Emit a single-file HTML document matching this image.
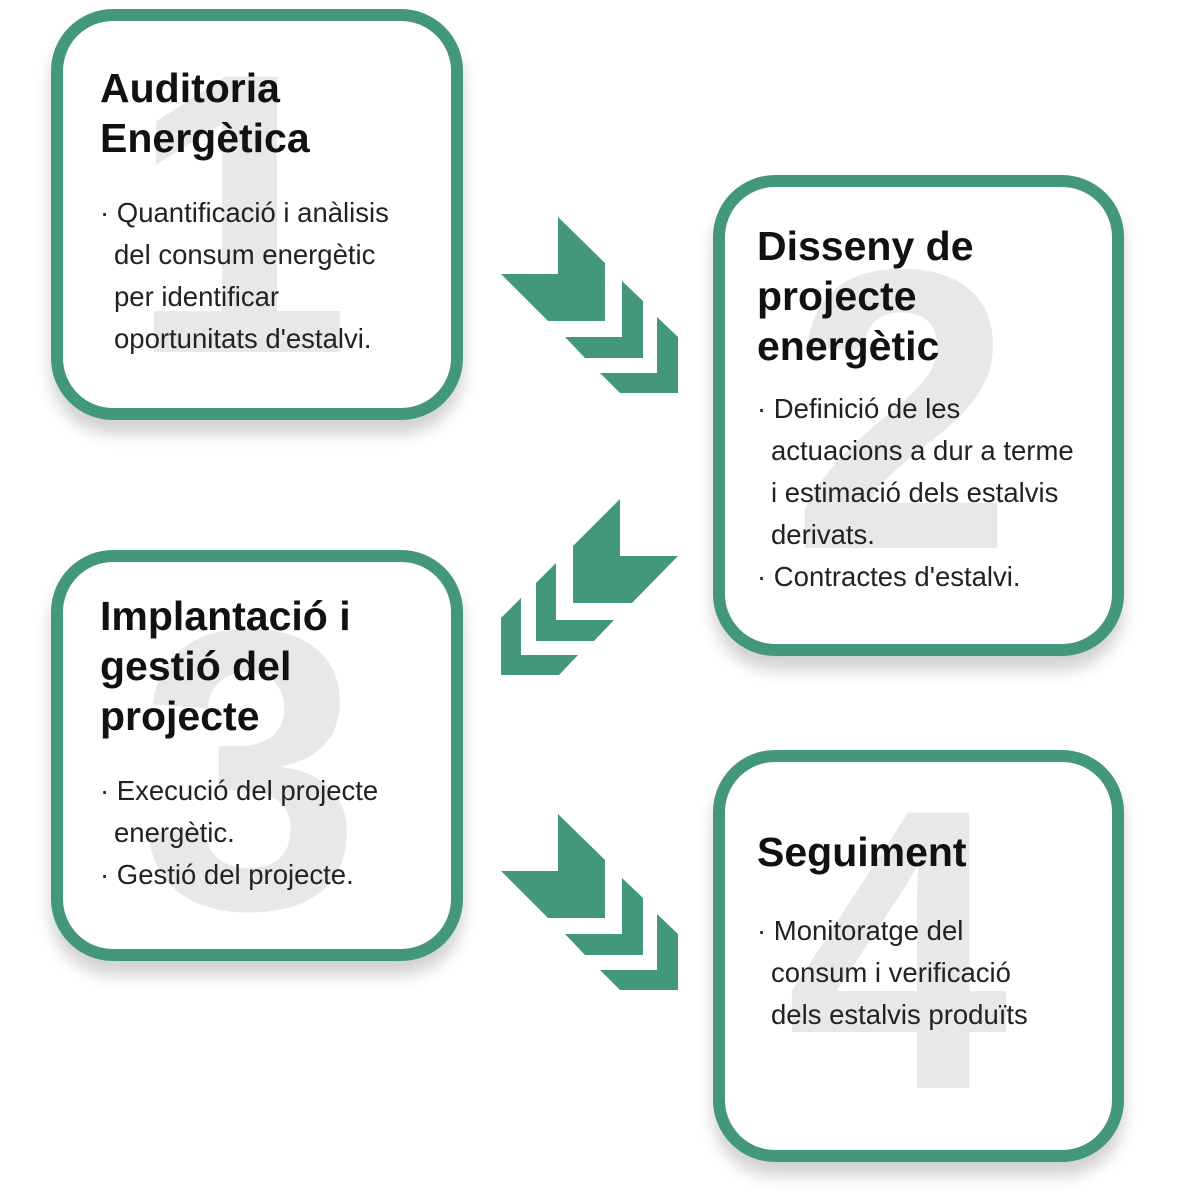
<!DOCTYPE html>
<html><head><meta charset="utf-8"><style>
body{margin:0;width:1200px;height:1200px;background:#fff;position:relative;overflow:hidden;font-family:"Liberation Sans",sans-serif;}
.box{position:absolute;box-sizing:border-box;border:12px solid #43977c;border-radius:62px;background:#fff;box-shadow:0 14px 16px rgba(0,0,0,0.18);}
.num{position:absolute;width:240px;text-align:center;font-size:400px;line-height:400px;font-weight:bold;color:#e8e8e8;}
.t{position:absolute;font-weight:bold;font-size:41px;line-height:50px;color:#111;white-space:nowrap;}
.b{position:absolute;font-size:27.5px;line-height:42px;color:#222;white-space:nowrap;}
.b div{padding-left:14px;}
.b div.f{padding-left:0;}
svg{position:absolute;left:0;top:0;}
</style></head><body>
<div class="box" style="left:51px;top:9px;width:412px;height:411px"></div>
<div class="box" style="left:713px;top:175px;width:411px;height:481px"></div>
<div class="box" style="left:51px;top:550px;width:412px;height:411px"></div>
<div class="box" style="left:713px;top:750px;width:411px;height:412px"></div>

<div class="num" style="left:120px;top:14px">1</div>
<div class="num" style="left:782px;top:210px">2</div>
<div class="num" style="left:130px;top:570px">3</div>
<div class="num" style="left:777px;top:750px">4</div>

<div class="t" style="left:100px;top:63px">Auditoria<br>Energètica</div>
<div class="b" style="left:100px;top:192px"><div class="f">· Quantificació i anàlisis</div><div>del consum energètic</div><div>per identificar</div><div>oportunitats d'estalvi.</div></div>

<div class="t" style="left:757px;top:221px">Disseny de<br>projecte<br>energètic</div>
<div class="b" style="left:757px;top:388px"><div class="f">· Definició de les</div><div>actuacions a dur a terme</div><div>i estimació dels estalvis</div><div>derivats.</div><div class="f">· Contractes d'estalvi.</div></div>

<div class="t" style="left:100px;top:591px">Implantació i<br>gestió del<br>projecte</div>
<div class="b" style="left:100px;top:770px"><div class="f">· Execució del projecte</div><div>energètic.</div><div class="f">· Gestió del projecte.</div></div>

<div class="t" style="left:757px;top:827px">Seguiment</div>
<div class="b" style="left:757px;top:910px"><div class="f">· Monitoratge del</div><div>consum i verificació</div><div>dels estalvis produïts</div></div>

<svg width="1200" height="1200" fill="#43977c">
<polygon points="501,274 558,274 558,217 605,263 605,321 548,321"/>
<polygon points="565,337 622,337 622,281 643,301 643,358 585,358"/>
<polygon points="600,373 657,373 657,317 678,337 678,393 620,393"/>
<g transform="translate(0,597)">
<polygon points="501,274 558,274 558,217 605,263 605,321 548,321"/>
<polygon points="565,337 622,337 622,281 643,301 643,358 585,358"/>
<polygon points="600,373 657,373 657,317 678,337 678,393 620,393"/>
</g>
<polygon points="620,499 620,556 678,556 632,603 573,603 573,546"/>
<polygon points="556,563 556,620 614,620 594,641 536,641 536,583"/>
<polygon points="521,598 521,655 578,655 559,675 501,675 501,618"/>
</svg>
</body></html>
